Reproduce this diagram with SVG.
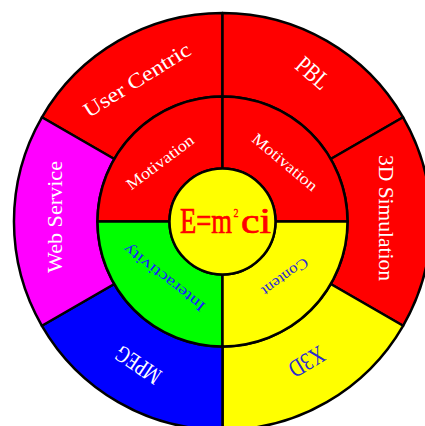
<svg xmlns="http://www.w3.org/2000/svg" width="425" height="426" viewBox="0 0 425 426">
<style>
.seg{stroke:#000;stroke-width:2.5;stroke-linejoin:round}
.lbl{font-family:"Liberation Serif","Times New Roman",serif;text-anchor:middle;dominant-baseline:central}
.w{fill:#fff}
.b{fill:#1a1aff}
.b2{fill:#2a2ad0}
</style>
<rect width="425" height="426" fill="#fff"/>
<g id="connectors"></g>
<g id="outer-user-centric">
<path class="seg" fill="#ff0000" d="M222.5,13 A208.5 208.5 0 0 0 41.9,117.25 L114.25,159 A125 125 0 0 1 222.5,96.5 Z"/>
<text class="lbl w" font-size="21" textLength="122" lengthAdjust="spacingAndGlyphs" transform="translate(137,80) rotate(-32)">User Centric</text>
</g>
<g id="outer-pbl">
<path class="seg" fill="#ff0000" d="M403.1,117.25 A208.5 208.5 0 0 0 222.5,13 L222.5,96.5 A125 125 0 0 1 330.75,159 Z"/>
<text class="lbl w" font-size="25" textLength="36" lengthAdjust="spacingAndGlyphs" transform="translate(313,73) rotate(41)">PBL</text>
</g>
<g id="outer-3d-simulation">
<path class="seg" fill="#ff0000" d="M403.1,325.75 A208.5 208.5 0 0 0 403.1,117.25 L330.75,159 A125 125 0 0 1 330.75,284 Z"/>
<text class="lbl w" font-size="20" textLength="126" lengthAdjust="spacingAndGlyphs" transform="translate(386,218) rotate(90)">3D Simulation</text>
</g>
<g id="outer-x3d">
<path class="seg" fill="#ffff00" d="M222.5,430 A208.5 208.5 0 0 0 403.1,325.75 L330.75,284 A125 125 0 0 1 222.5,346.5 Z"/>
<text class="lbl b2" font-size="25" textLength="38" lengthAdjust="spacingAndGlyphs" transform="translate(307,362) rotate(149)">X3D</text>
</g>
<g id="outer-mpeg">
<path class="seg" fill="#0000ff" d="M41.9,325.75 A208.5 208.5 0 0 0 222.5,430 L222.5,346.5 A125 125 0 0 1 114.25,284 Z"/>
<text class="lbl w" font-size="24" textLength="50" lengthAdjust="spacingAndGlyphs" transform="translate(138,365) rotate(214)">MPEG</text>
</g>
<g id="outer-web-service">
<path class="seg" fill="#ff00ff" d="M41.9,117.25 A208.5 208.5 0 0 0 41.9,325.75 L114.25,284 A125 125 0 0 1 114.25,159 Z"/>
<text class="lbl w" font-size="20" textLength="112" lengthAdjust="spacingAndGlyphs" transform="translate(55,217) rotate(-90)">Web Service</text>
</g>
<g id="mid-motivation-left">
<path class="seg" fill="#ff0000" d="M222.5,96.5 A125 125 0 0 0 97.5,221.5 L169.5,221.5 A53 53 0 0 1 222.5,168.5 Z"/>
<text class="lbl w" font-size="16" textLength="80" lengthAdjust="spacingAndGlyphs" transform="translate(160,162) rotate(-37)">Motivation</text>
</g>
<g id="mid-motivation-right">
<path class="seg" fill="#ff0000" d="M347.5,221.5 A125 125 0 0 0 222.5,96.5 L222.5,168.5 A53 53 0 0 1 275.5,221.5 Z"/>
<text class="lbl w" font-size="16" textLength="80" lengthAdjust="spacingAndGlyphs" transform="translate(285,162) rotate(40)">Motivation</text>
</g>
<g id="mid-interactivity">
<path class="seg" fill="#00ff00" d="M97.5,221.5 A125 125 0 0 0 222.5,346.5 L222.5,274.5 A53 53 0 0 1 169.5,221.5 Z"/>
<text class="lbl b" font-size="15" textLength="100" lengthAdjust="spacingAndGlyphs" transform="translate(164,278) rotate(218)">Interactivity</text>
</g>
<g id="mid-content">
<path class="seg" fill="#ffff00" d="M222.5,346.5 A125 125 0 0 0 347.5,221.5 L275.5,221.5 A53 53 0 0 1 222.5,274.5 Z"/>
<text class="lbl b2" font-size="15" textLength="54" lengthAdjust="spacingAndGlyphs" transform="translate(285,277) rotate(144)">Content</text>
</g>
<g id="center">
<circle class="seg" cx="222.5" cy="221.5" r="53" fill="#ffff00"/>
<text font-family="Liberation Serif,'Times New Roman',serif" fill="#ff0000" stroke="#ff0000" stroke-width="0.7" font-size="35"><tspan x="180" y="233" textLength="52" lengthAdjust="spacingAndGlyphs">E=m</tspan><tspan x="233.5" y="217" font-size="12" stroke-width="0.3" textLength="5" lengthAdjust="spacingAndGlyphs">2</tspan><tspan x="241" y="233" textLength="30" lengthAdjust="spacingAndGlyphs">ci</tspan></text>
</g>
</svg>
